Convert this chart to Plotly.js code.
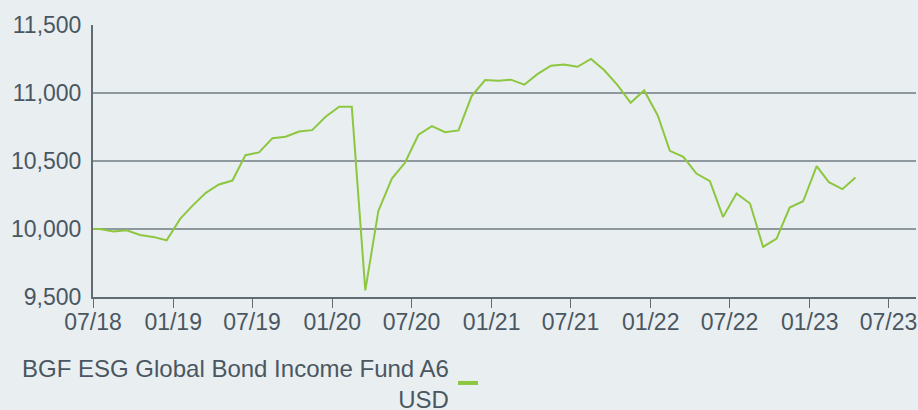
<!DOCTYPE html>
<html>
<head>
<meta charset="utf-8">
<script src="https://cdn.plot.ly/plotly-3.0.1.min.js"></script>
<style>
  html, body { margin: 0; padding: 0; background: #e9eef1; }
  #chart { width: 918px; height: 410px; }
</style>
</head>
<body>
<div id="chart"></div>
<script>
// Data (growth of 10,000 USD)
const seriesName = "BGF ESG Global Bond Income Fund A6 USD";
const legendLine1 = "BGF ESG Global Bond Income Fund A6";
const legendLine2 = "USD";

const dates = [
  "2018-07-15", "2018-07-31", "2018-08-31", "2018-09-30", "2018-10-31", "2018-11-30", "2018-12-31",
  "2019-01-31", "2019-02-28", "2019-03-31", "2019-04-30", "2019-05-31", "2019-06-30",
  "2019-07-31", "2019-08-31", "2019-09-30", "2019-10-31", "2019-11-30", "2019-12-31",
  "2020-01-31", "2020-02-29", "2020-03-31", "2020-04-30", "2020-05-31", "2020-06-30",
  "2020-07-31", "2020-08-31", "2020-09-30", "2020-10-31", "2020-11-30", "2020-12-31",
  "2021-01-31", "2021-02-28", "2021-03-31", "2021-04-30", "2021-05-31", "2021-06-30",
  "2021-07-31", "2021-08-31", "2021-09-30", "2021-10-31", "2021-11-30", "2021-12-31",
  "2022-01-31", "2022-02-28", "2022-03-31", "2022-04-30", "2022-05-31", "2022-06-30",
  "2022-07-31", "2022-08-31", "2022-09-30", "2022-10-31", "2022-11-30", "2022-12-31",
  "2023-01-31", "2023-02-28", "2023-03-31", "2023-04-30"
];

const values = [
  10000, 10000, 9981, 9991, 9956, 9942, 9917,
  10074, 10170, 10266, 10327, 10356, 10543,
  10563, 10668, 10678, 10717, 10727, 10825,
  10899, 10899, 9549, 10133, 10371, 10487,
  10693, 10756, 10712, 10725, 10977, 11095,
  11090, 11098, 11061, 11139, 11201, 11210,
  11193, 11250, 11169, 11058, 10928, 11019,
  10837, 10575, 10531, 10408, 10352, 10089,
  10261, 10187, 9868, 9929, 10158, 10204,
  10462, 10344, 10293, 10379
];

const xTickVals = [
  "2018-07-15", "2019-01-15", "2019-07-15", "2020-01-15", "2020-07-15", "2021-01-15",
  "2021-07-15", "2022-01-15", "2022-07-15", "2023-01-15", "2023-07-15"
];
const xTickText = ["07/18", "01/19", "07/19", "01/20", "07/20", "01/21", "07/21", "01/22", "07/22", "01/23", "07/23"];

const yTickVals = [9500, 10000, 10500, 11000, 11500];

const green = "#8dc63f";
const textColor = "#4a5761";
const bg = "#e9eef1";
const gridColor = "#8f989e";
const axisColor = "#606b72";
const fontFamily = "'Liberation Sans', Arial, Helvetica, sans-serif";

const trace = {
  type: "scatter",
  mode: "lines",
  x: dates,
  y: values,
  name: seriesName,
  line: { color: green, width: 2 },
  showlegend: false,
  hoverinfo: "x+y"
};

const layout = {
  width: 918,
  height: 410,
  paper_bgcolor: bg,
  plot_bgcolor: bg,
  margin: { l: 93, r: 2, t: 25, b: 113 },
  font: { family: fontFamily, size: 23, color: textColor },
  showlegend: false,
  xaxis: {
    type: "date",
    range: ["2018-07-15", "2023-09-16"],
    tickmode: "array",
    tickvals: xTickVals,
    ticktext: xTickText,
    ticks: "outside",
    ticklen: 9,
    tickwidth: 1,
    tickcolor: axisColor,
    ticklabelstandoff: -6,
    showline: true,
    linecolor: axisColor,
    linewidth: 2,
    showgrid: false,
    zeroline: false,
    tickfont: { family: fontFamily, size: 23, color: textColor }
  },
  yaxis: {
    range: [9500, 11500],
    tickmode: "array",
    tickvals: yTickVals,
    tickformat: ",d",
    ticks: "",
    ticklabelstandoff: 5,
    showline: true,
    linecolor: axisColor,
    linewidth: 2,
    showgrid: true,
    gridcolor: gridColor,
    gridwidth: 2,
    zeroline: false,
    tickfont: { family: fontFamily, size: 23, color: textColor }
  },
  annotations: [{
    xref: "paper", yref: "paper",
    x: 0.435, y: -0.205,
    xanchor: "right", yanchor: "top",
    align: "right",
    showarrow: false,
    text: legendLine1 + "<br>" + legendLine2,
    font: { family: fontFamily, size: 24, color: textColor }
  }],
  shapes: [{
    type: "line",
    xref: "paper", yref: "paper",
    x0: 0.4435, x1: 0.4678, y0: -0.316, y1: -0.316,
    line: { color: green, width: 4 }
  }]
};

Plotly.newPlot("chart", [trace], layout, { displayModeBar: false, staticPlot: true });
</script>
</body>
</html>
